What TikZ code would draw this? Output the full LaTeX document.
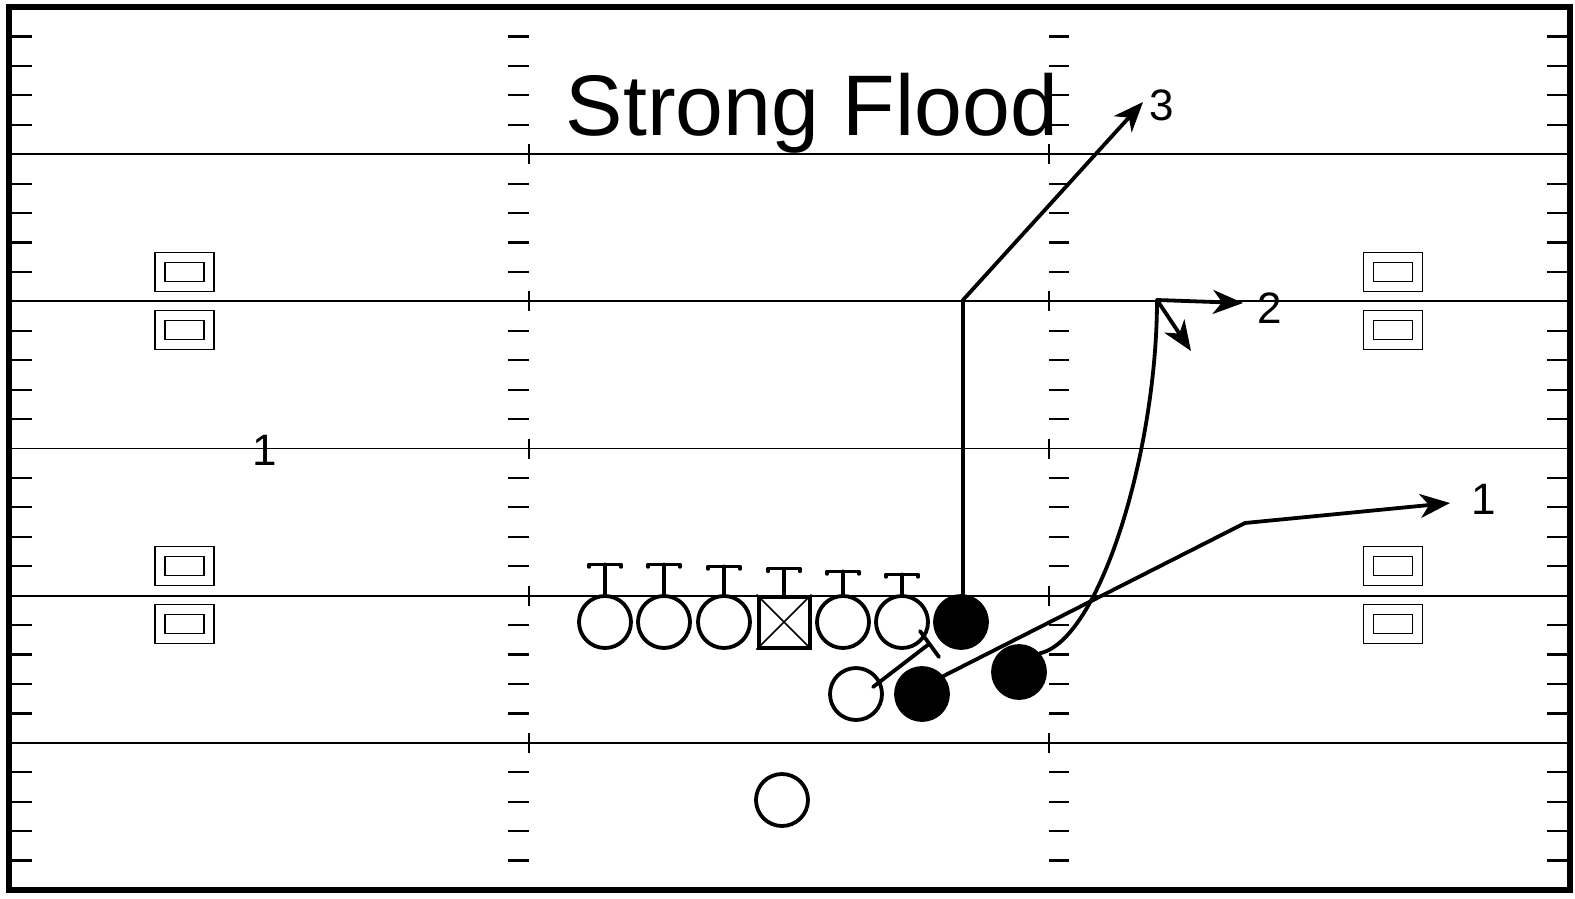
\documentclass[tikz,border=0pt]{standalone}
\usepackage{fontspec}
\setmainfont{Liberation Sans}
\usetikzlibrary{arrows.meta}
\begin{document}
\begin{tikzpicture}[x=1pt,y=-1pt,
  yard/.style={line width=1.7pt},
  tick/.style={line width=2.2pt},
  frame/.style={line width=6pt},
  opl/.style={circle,draw,line width=3.8pt,minimum size=52pt,inner sep=0pt},
  dpl/.style={circle,draw,fill=black,line width=3.8pt,minimum size=52pt,inner sep=0pt},
  ctr/.style={rectangle,draw,line width=4pt,minimum size=51pt,inner sep=0pt},
  outbox/.style={rectangle,draw,line width=1.6pt,minimum width=59pt,minimum height=39pt,inner sep=0pt},
  inbox/.style={rectangle,draw,line width=1.6pt,minimum width=39pt,minimum height=19pt,inner sep=0pt},
  route/.style={line width=3.8pt,line cap=round,line join=round},
  tee/.style={line width=3.2pt,line cap=round,line join=round},
  arr/.style={-{Stealth[length=30pt,width=24pt,inset=9pt]}},
  lbl/.style={font=\fontsize{44}{44}\selectfont,inner sep=0pt},
]
\useasboundingbox (0,0) rectangle (1575,898);
% yard lines
\foreach \k in {1,...,5} {
  \pgfmathsetmacro\yy{7+147.17*\k}
  \draw[yard] (8.5,\yy) -- (1570,\yy);
}
% hash marks
\foreach \k in {1,...,29} {
  \pgfmathsetmacro\yy{7+29.433*\k}
  \pgfmathtruncatemacro\m{mod(\k,5)}
  \ifnum\m=0
    \draw[tick] (529,\yy-10) -- (529,\yy+10);
    \draw[tick] (1049,\yy-10) -- (1049,\yy+10);
  \else
    \draw[tick] (11,\yy) -- (32,\yy);
    \draw[tick] (1547,\yy) -- (1567,\yy);
    \draw[tick] (508,\yy) -- (529,\yy);
    \draw[tick] (1049,\yy) -- (1069,\yy);
  \fi
}
% border
\draw[frame] (8.5,7) rectangle (1570,890);
% title
\node[font=\fontsize{86}{86}\selectfont,anchor=base,inner sep=0pt] (title) at (812,135) {Strong Flood};
% boxes
\foreach \bx/\nm in {184.5/L,1393/R} {
  \foreach \by/\j in {272/a,330/b,566/c,624/d} {
    \node[outbox] (ob\nm\j) at (\bx,\by) {};
    \node[inbox] (ib\nm\j) at (\bx,\by) {};
  }
}
% players
\node[opl] (o1) at (605,622) {};
\node[opl] (o2) at (664,622) {};
\node[opl] (o3) at (724,622) {};
\node[ctr] (c) at (784,622) {};
\draw[line width=1.5pt] (c.north west) -- (c.south east) (c.north east) -- (c.south west);
\node[opl] (o5) at (843,622) {};
\node[opl] (o6) at (902,622) {};
\node[dpl] (d3) at (961,622) {};
\node[opl] (o7) at (856,694) {};
\node[dpl] (d1) at (922,694) {};
\node[dpl] (d2) at (1019,672) {};
\node[opl] (qb) at (782,800) {};
% line blocks
\foreach \n/\h in {o1/30,o2/30,o3/28,c/26,o5/23,o6/20} {
  \draw[tee] (\n.north) -- ++(0,-\h) coordinate (top\n);
  \draw[tee] ([xshift=-16pt,yshift=-3pt]top\n) -- ++(0,-3) -- ++(32,0) -- ++(0,3);
}
% block of o7
\coordinate (b1) at (873,687);
\coordinate (b2) at (929,644);
\coordinate (b3) at (920,631);
\coordinate (b4) at (939,657);
\draw[route] (b1) -- (b2);
\draw[route] (b3) -- (b4);
% routes
\coordinate (r3a) at (963,300);
\coordinate (r3b) at (1143,102);
\draw[route,arr] (d3.north -| r3a) -- (r3a) -- (r3b);
\coordinate (r2a) at (1157,300);
\coordinate (r2b) at (1243,303);
\coordinate (r2c) at (1191,351);
\draw[route] (d2.42) .. controls (1100,640) and (1157,450) .. (r2a);
\draw[route,arr] (r2a) -- (r2b);
\draw[route,arr] (r2a) -- (r2c);
\coordinate (r1a) at (1245,523);
\coordinate (r1b) at (1450,503);
\draw[route,arr] (d1.40) -- (r1a) -- (r1b);
% labels
\node[lbl] (l3) at (1162,105) {3};
\node[lbl] (l2) at (1270,308) {2};
\node[lbl] (l1) at (1484,499) {1};
\node[lbl] (l1b) at (265,450) {1};
\end{tikzpicture}
\end{document}
